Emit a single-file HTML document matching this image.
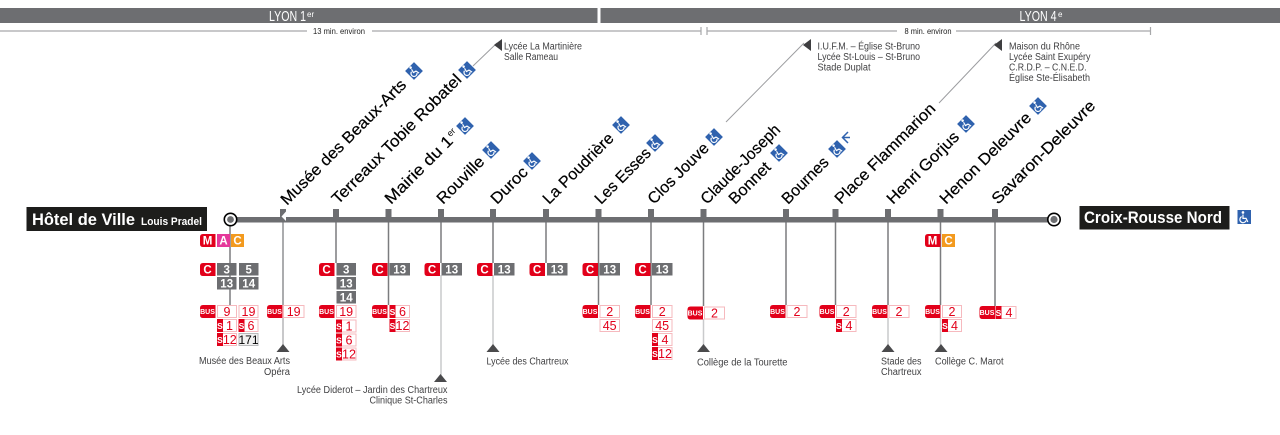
<!DOCTYPE html>
<html lang="fr"><head><meta charset="utf-8"><title>Ligne C</title>
<style>
html,body{margin:0;padding:0;background:#fff}
svg{display:block}
text{font-family:"Liberation Sans",sans-serif}
.g{fill:#6d6e71}
.w{fill:#fff;font-size:11.5px;text-anchor:middle;font-weight:bold}
.t{fill:#fff;font-size:11.5px;text-anchor:middle;font-weight:bold}
.b{fill:#fff;stroke:#f6b9be;stroke-width:1}
.r{fill:#e2001a;font-size:12.5px;text-anchor:middle}
.red{fill:#e2001a}
.bus{fill:#fff;font-size:7px;text-anchor:middle;font-weight:bold}
.s{fill:#fff;font-size:8.5px;text-anchor:middle;font-weight:bold}
.n{fill:#000;font-size:16px;stroke:#000;stroke-width:.2}
.sm{fill:#404042;font-size:10px}
.d{stroke:#7b7c7f;stroke-width:1.5}
.l{stroke:#c9cacc;stroke-width:1.5}
.di{stroke:#a7a8aa;stroke-width:1.2}
</style></head><body>
<svg width="1280" height="435" viewBox="0 0 1280 435" xmlns="http://www.w3.org/2000/svg">
<defs>
<path id="rb" d="M3 0H15.5V13H3Q0 13 0 10V3Q0 0 3 0Z" fill="#e2001a"/>
<g id="ic" fill="none" stroke="#fff" stroke-width="1.1"><circle cx="-1.2" cy="-4.4" r="1.2" fill="#fff" stroke="none"/><path d="M-1.2 -2.6V1H1.6L3.2 4.2"/><path d="M-2.4 -.6A2.9 2.9 0 1 0 1.6 3"/></g>
<g id="wc"><rect x="-6.3" y="-6.3" width="12.6" height="12.6" transform="rotate(45)" fill="#2f62ae"/><use href="#ic" transform="rotate(-30) scale(1.05)"/></g>
<path id="tri" d="M-6.5 8L0 0L6.5 8Z" fill="#4a4a4c"/>
<path id="tl" d="M0 6L8 0V12Z" fill="#3e3e40"/>
</defs>

<!-- headers -->
<rect x="0" y="8" width="597.5" height="15" class="g"/>
<rect x="600.5" y="8" width="679.5" height="15" class="g"/>
<text x="269" y="21" fill="#fff" font-size="14.5" textLength="37" lengthAdjust="spacingAndGlyphs">LYON 1</text>
<text x="307" y="17" fill="#fff" font-size="8">er</text>
<text x="1019.5" y="21" fill="#fff" font-size="14.5" textLength="37" lengthAdjust="spacingAndGlyphs">LYON 4</text>
<text x="1058" y="17" fill="#fff" font-size="8">e</text>

<!-- durations -->
<path class="di" d="M0 31H307M372 31H700.5M701 27V35M707 27V35M707 31H897M956 31H1150.5M1150.5 27V35" fill="none"/>
<text x="313" y="34" font-size="8.5" fill="#222" textLength="52" lengthAdjust="spacingAndGlyphs">13 min. environ</text>
<text x="904.5" y="34" font-size="8.5" fill="#222" textLength="47" lengthAdjust="spacingAndGlyphs">8 min. environ</text>

<!-- leader lines -->
<path d="M473 66L497 43M726 122L804 43M939 103L996 43" stroke="#9c9da0" stroke-width="1" fill="none"/>
<use href="#tl" x="494" y="39"/><use href="#tl" x="803" y="39"/><use href="#tl" x="994" y="39"/>
<g class="sm">
<text x="504" y="49.5" textLength="78" lengthAdjust="spacingAndGlyphs">Lycée La Martinière</text>
<text x="504" y="60" textLength="54" lengthAdjust="spacingAndGlyphs">Salle Rameau</text>
<text x="817.5" y="49.5" textLength="102.5" lengthAdjust="spacingAndGlyphs">I.U.F.M. – Église St-Bruno</text>
<text x="817.5" y="60" textLength="102.5" lengthAdjust="spacingAndGlyphs">Lycée St-Louis – St-Bruno</text>
<text x="817.5" y="70.5" textLength="53" lengthAdjust="spacingAndGlyphs">Stade Duplat</text>
<text x="1009" y="49.5" textLength="71" lengthAdjust="spacingAndGlyphs">Maison du Rhône</text>
<text x="1009" y="60" textLength="81.5" lengthAdjust="spacingAndGlyphs">Lycée Saint Exupéry</text>
<text x="1009" y="70.5" textLength="77.5" lengthAdjust="spacingAndGlyphs">C.R.D.P. – C.N.E.D.</text>
<text x="1009" y="81" textLength="81" lengthAdjust="spacingAndGlyphs">Église Ste-Élisabeth</text>
</g>

<!-- verticals -->
<path class="d" d="M230 222V305M336 222V263M388.5 222V305M441 222V263M493 222V263M546 222V263M598.5 222V305M651 222V305M703.5 222V306M786 222V305M835.5 222V305M888 222V305M940.5 222V305M995 222V306" fill="none"/>
<path class="l" d="M441 275V375M493 275V345M703.5 319V345M888 318V345M940.5 318V345" fill="none"/>
<path d="M283 222V305" stroke="#8f9093" stroke-width="1.5"/>
<path d="M283 318V345" stroke="#b5b6b8" stroke-width="1.5"/>

<!-- main line -->
<rect x="236" y="217" width="812" height="5.5" class="g"/>
<g class="g">
<rect x="280" y="209" width="6" height="9"/><rect x="333" y="209" width="6" height="9"/><rect x="385.5" y="209" width="6" height="9"/><rect x="438" y="209" width="6" height="9"/><rect x="490" y="209" width="6" height="9"/><rect x="543" y="209" width="6" height="9"/><rect x="595.5" y="209" width="6" height="9"/><rect x="648" y="209" width="6" height="9"/><rect x="700.5" y="209" width="6" height="9"/><rect x="783" y="209" width="6" height="9"/><rect x="832.5" y="209" width="6" height="9"/><rect x="885" y="209" width="6" height="9"/><rect x="937.5" y="209" width="6" height="9"/><rect x="992" y="209" width="6" height="9"/>
</g>
<path d="M286 211.5V221L281.5 216.5Z" fill="#fff"/>
<circle cx="230.5" cy="219.5" r="6.2" fill="#fff" stroke="#000" stroke-width="1.6"/><circle cx="230.5" cy="219.5" r="3.4" fill="#6d6e71"/>
<circle cx="1054" cy="219.5" r="6.2" fill="#fff" stroke="#000" stroke-width="1.6"/><circle cx="1054" cy="219.5" r="3.6" fill="#6d6e71"/>

<!-- terminals -->
<rect x="26.5" y="207" width="180.5" height="24" fill="#1d1d1b"/>
<text x="32" y="225" fill="#fff" font-size="16.5" font-weight="bold" textLength="103" lengthAdjust="spacingAndGlyphs">Hôtel de Ville</text>
<text x="141" y="225" fill="#fff" font-size="11" font-weight="bold" textLength="61" lengthAdjust="spacingAndGlyphs">Louis Pradel</text>
<rect x="1079.5" y="206" width="150" height="23.5" fill="#1d1d1b"/>
<text x="1084" y="223" fill="#fff" font-size="17" font-weight="bold" textLength="138" lengthAdjust="spacingAndGlyphs">Croix-Rousse Nord</text>
<rect x="1237.5" y="210" width="13.5" height="14" fill="#2f62ae"/><use href="#ic" transform="translate(1244.3 217.3) scale(1.1)"/>

<!-- station names -->
<g class="n">
<text transform="translate(287 206) rotate(-45)" textLength="170" lengthAdjust="spacingAndGlyphs">Musée des Beaux-Arts</text>
<text transform="translate(338 205) rotate(-45)" textLength="176" lengthAdjust="spacingAndGlyphs">Terreaux Tobie Robatel</text>
<g transform="translate(391 205) rotate(-45)"><text textLength="89" lengthAdjust="spacingAndGlyphs">Mairie du 1</text><text x="90" y="-6" font-size="9" stroke-width="0">er</text></g>
<text transform="translate(443 205) rotate(-45)" textLength="60" lengthAdjust="spacingAndGlyphs">Rouville</text>
<text transform="translate(497 205) rotate(-45)" textLength="45" lengthAdjust="spacingAndGlyphs">Duroc</text>
<text transform="translate(549 205) rotate(-45)" textLength="93" lengthAdjust="spacingAndGlyphs">La Poudrière</text>
<text transform="translate(601 205) rotate(-45)" textLength="72" lengthAdjust="spacingAndGlyphs">Les Esses</text>
<text transform="translate(654 205) rotate(-45)" textLength="79" lengthAdjust="spacingAndGlyphs">Clos Jouve</text>
<text transform="translate(707 205) rotate(-45)" textLength="105" lengthAdjust="spacingAndGlyphs">Claude-Joseph</text>
<text transform="translate(735 205) rotate(-45)" textLength="52" lengthAdjust="spacingAndGlyphs">Bonnet</text>
<text transform="translate(788 205) rotate(-45)" textLength="59" lengthAdjust="spacingAndGlyphs">Bournes</text>
<text transform="translate(841 205) rotate(-45)" textLength="135" lengthAdjust="spacingAndGlyphs">Place Flammarion</text>
<text transform="translate(893 205) rotate(-45)" textLength="95" lengthAdjust="spacingAndGlyphs">Henri Gorjus</text>
<text transform="translate(946 205) rotate(-45)" textLength="122" lengthAdjust="spacingAndGlyphs">Henon Deleuvre</text>
<text transform="translate(998 205) rotate(-45)" textLength="139" lengthAdjust="spacingAndGlyphs">Savaron-Deleuvre</text>
</g>

<!-- accessibility -->
<use href="#wc" transform="translate(414 71)"/><use href="#wc" transform="translate(467 70)"/><use href="#wc" transform="translate(465 126)"/><use href="#wc" transform="translate(491 150)"/><use href="#wc" transform="translate(532 161)"/><use href="#wc" transform="translate(621 125)"/><use href="#wc" transform="translate(655 143)"/><use href="#wc" transform="translate(714 137)"/><use href="#wc" transform="translate(779 153)"/><use href="#wc" transform="translate(837 149)"/><use href="#wc" transform="translate(966 124)"/><use href="#wc" transform="translate(1038 106)"/>
<path d="M848 132L842.5 137.5L848 143M843 137.5H850" fill="none" stroke="#2f62ae" stroke-width="1.5"/>

<!-- metro row -->
<use href="#rb" x="200" y="234"/><text class="w" x="207.5" y="244.7">M</text>
<rect x="217" y="234" width="13" height="13" fill="#e5389a"/><text class="w" x="223.5" y="244.7">A</text>
<rect x="231" y="234" width="13" height="13" fill="#f39a1e"/><text class="w" x="237.5" y="244.7">C</text>
<use href="#rb" x="925" y="234"/><text class="w" x="932.5" y="244.7">M</text>
<rect x="942" y="234" width="13" height="13" fill="#f39a1e"/><text class="w" x="948.5" y="244.7">C</text>

<!-- C badges -->
<g>
<use href="#rb" x="200" y="263"/><text class="w" x="207.5" y="273.7">C</text>
<rect class="g" x="217" y="263" width="19.5" height="12.5"/><text class="t" x="226.7" y="273.5">3</text>
<rect class="g" x="239" y="263" width="19.5" height="12.5"/><text class="t" x="248.7" y="273.5">5</text>
<rect class="g" x="217" y="277" width="19.5" height="12.5"/><text class="t" x="226.7" y="287.5">13</text>
<rect class="g" x="239" y="277" width="19.5" height="12.5"/><text class="t" x="248.7" y="287.5">14</text>

<use href="#rb" x="319" y="263"/><text class="w" x="326.5" y="273.7">C</text>
<rect class="g" x="336.5" y="263" width="19.5" height="12.5"/><text class="t" x="346.2" y="273.5">3</text>
<rect class="g" x="336.5" y="277" width="19.5" height="12.5"/><text class="t" x="346.2" y="287.5">13</text>
<rect class="g" x="336.5" y="291" width="19.5" height="12.5"/><text class="t" x="346.2" y="301.5">14</text>

<use href="#rb" x="372" y="263"/><text class="w" x="379.5" y="273.7">C</text>
<rect class="g" x="389.5" y="263" width="20.5" height="12.5"/><text class="t" x="399.7" y="273.5">13</text>
<use href="#rb" x="424.5" y="263"/><text class="w" x="432" y="273.7">C</text>
<rect class="g" x="441.5" y="263" width="20.5" height="12.5"/><text class="t" x="451.7" y="273.5">13</text>
<use href="#rb" x="477" y="263"/><text class="w" x="484.5" y="273.7">C</text>
<rect class="g" x="494" y="263" width="20.5" height="12.5"/><text class="t" x="504.2" y="273.5">13</text>
<use href="#rb" x="529.5" y="263"/><text class="w" x="537" y="273.7">C</text>
<rect class="g" x="547" y="263" width="20.5" height="12.5"/><text class="t" x="557.2" y="273.5">13</text>
<use href="#rb" x="582.5" y="263"/><text class="w" x="590" y="273.7">C</text>
<rect class="g" x="599.5" y="263" width="20.5" height="12.5"/><text class="t" x="609.7" y="273.5">13</text>
<use href="#rb" x="635" y="263"/><text class="w" x="642.5" y="273.7">C</text>
<rect class="g" x="652" y="263" width="20.5" height="12.5"/><text class="t" x="662.2" y="273.5">13</text>
</g>

<!-- bus: Hôtel de Ville -->
<use href="#rb" x="200" y="305"/><text class="bus" x="207.5" y="314">BUS</text>
<rect class="b" x="217.5" y="305.5" width="19" height="12"/><text class="r" x="227" y="316">9</text>
<rect class="b" x="239" y="305.5" width="19" height="12"/><text class="r" x="248.5" y="316">19</text>
<rect class="b" x="217.5" y="319.5" width="19" height="12"/><rect class="red" x="217" y="319" width="6" height="13"/><text class="s" x="220" y="328.8">S</text><text class="r" x="229.5" y="330">1</text>
<rect class="b" x="239" y="319.5" width="19" height="12"/><rect class="red" x="238.5" y="319" width="6" height="13"/><text class="s" x="241.5" y="328.8">S</text><text class="r" x="251" y="330">6</text>
<rect class="b" x="217.5" y="333.5" width="19" height="12"/><rect class="red" x="217" y="333" width="6" height="13"/><text class="s" x="220" y="342.8">S</text><text class="r" x="229.8" y="344">12</text>
<rect x="239" y="333.5" width="19" height="12" fill="#f1f1f1" stroke="#b8b9bb"/><text x="248.5" y="344" font-size="12" text-anchor="middle" fill="#000">171</text>

<!-- bus: Beaux-Arts -->
<use href="#rb" x="267" y="305"/><text class="bus" x="274.5" y="314">BUS</text>
<rect class="b" x="283.5" y="305.5" width="20.5" height="12"/><text class="r" x="293.7" y="316">19</text>

<!-- bus: Terreaux -->
<use href="#rb" x="319" y="305"/><text class="bus" x="326.5" y="314">BUS</text>
<rect class="b" x="336.5" y="305.5" width="19.5" height="12"/><text class="r" x="346.2" y="316">19</text>
<rect class="b" x="336.5" y="320" width="19.5" height="12"/><rect class="red" x="336" y="319.5" width="6" height="13"/><text class="s" x="339" y="329.3">S</text><text class="r" x="349" y="330.5">1</text>
<rect class="b" x="336.5" y="334" width="19.5" height="12"/><rect class="red" x="336" y="333.5" width="6" height="13"/><text class="s" x="339" y="343.3">S</text><text class="r" x="349" y="344.5">6</text>
<rect class="b" x="336.5" y="348" width="19.5" height="12"/><rect class="red" x="336" y="347.5" width="6" height="13"/><text class="s" x="339" y="357.3">S</text><text class="r" x="349" y="358.5">12</text>

<!-- bus: Mairie -->
<use href="#rb" x="372" y="305"/><text class="bus" x="379.5" y="314">BUS</text>
<rect class="b" x="390" y="305.5" width="19.5" height="12"/><rect class="red" x="389.5" y="305" width="6" height="13"/><text class="s" x="392.5" y="314.8">S</text><text class="r" x="402.5" y="316">6</text>
<rect class="b" x="390" y="319.5" width="19.5" height="12"/><rect class="red" x="389.5" y="319" width="6" height="13"/><text class="s" x="392.5" y="328.8">S</text><text class="r" x="402.5" y="330">12</text>

<!-- bus: Les Esses -->
<use href="#rb" x="582.5" y="305"/><text class="bus" x="590" y="314">BUS</text>
<rect class="b" x="600" y="305.5" width="19.5" height="12"/><text class="r" x="609.7" y="316">2</text>
<rect class="b" x="600" y="319.5" width="19.5" height="12"/><text class="r" x="609.7" y="330">45</text>

<!-- bus: Clos Jouve -->
<use href="#rb" x="635" y="305"/><text class="bus" x="642.5" y="314">BUS</text>
<rect class="b" x="652.5" y="305.5" width="19.5" height="12"/><text class="r" x="662.2" y="316">2</text>
<rect class="b" x="652.5" y="319.5" width="19.5" height="12"/><text class="r" x="662.2" y="330">45</text>
<rect class="b" x="652.5" y="333.5" width="19.5" height="12"/><rect class="red" x="652" y="333" width="6" height="13"/><text class="s" x="655" y="342.8">S</text><text class="r" x="665" y="344">4</text>
<rect class="b" x="652.5" y="347.5" width="19.5" height="12"/><rect class="red" x="652" y="347" width="6" height="13"/><text class="s" x="655" y="356.8">S</text><text class="r" x="665" y="358">12</text>

<!-- bus: Claude-Joseph Bonnet -->
<use href="#rb" x="687.5" y="306.5"/><text class="bus" x="695" y="315.5">BUS</text>
<rect class="b" x="704.5" y="307" width="20" height="12"/><text class="r" x="714.5" y="317.5">2</text>

<!-- bus: Bournes -->
<use href="#rb" x="770" y="305"/><text class="bus" x="777.5" y="314">BUS</text>
<rect class="b" x="787" y="305.5" width="20" height="12"/><text class="r" x="797" y="316">2</text>

<!-- bus: Place Flammarion -->
<use href="#rb" x="819.5" y="305"/><text class="bus" x="827" y="314">BUS</text>
<rect class="b" x="836.5" y="305.5" width="19.5" height="12"/><text class="r" x="846.2" y="316">2</text>
<rect class="b" x="836.5" y="319.5" width="19.5" height="12"/><rect class="red" x="836" y="319" width="6" height="13"/><text class="s" x="839" y="328.8">S</text><text class="r" x="849" y="330">4</text>

<!-- bus: Henri Gorjus -->
<use href="#rb" x="872" y="305"/><text class="bus" x="879.5" y="314">BUS</text>
<rect class="b" x="889" y="305.5" width="20" height="12"/><text class="r" x="899" y="316">2</text>

<!-- bus: Henon -->
<use href="#rb" x="925" y="305"/><text class="bus" x="932.5" y="314">BUS</text>
<rect class="b" x="942.5" y="305.5" width="19" height="12"/><text class="r" x="952" y="316">2</text>
<rect class="b" x="942.5" y="319.5" width="19" height="12"/><rect class="red" x="942" y="319" width="6" height="13"/><text class="s" x="945" y="328.8">S</text><text class="r" x="954.5" y="330">4</text>

<!-- bus: Savaron -->
<use href="#rb" x="979.5" y="306"/><text class="bus" x="987" y="315">BUS</text>
<rect class="b" x="996" y="306.5" width="20" height="12"/><rect class="red" x="995.5" y="306" width="6" height="13"/><text class="s" x="998.5" y="315.8">S</text><text class="r" x="1009" y="317">4</text>

<!-- triangles -->
<use href="#tri" x="283" y="344"/><use href="#tri" x="440.5" y="374"/><use href="#tri" x="493" y="344"/><use href="#tri" x="703.5" y="344"/><use href="#tri" x="888" y="344"/><use href="#tri" x="941" y="344"/>

<!-- destination labels -->
<g class="sm">
<text x="199" y="364" textLength="91" lengthAdjust="spacingAndGlyphs">Musée des Beaux Arts</text>
<text x="264" y="375" textLength="26" lengthAdjust="spacingAndGlyphs">Opéra</text>
<text x="297" y="393" textLength="150.5" lengthAdjust="spacingAndGlyphs">Lycée Diderot – Jardin des Chartreux</text>
<text x="369.5" y="403.5" textLength="78" lengthAdjust="spacingAndGlyphs">Clinique St-Charles</text>
<text x="486.5" y="364.5" textLength="82" lengthAdjust="spacingAndGlyphs">Lycée des Chartreux</text>
<text x="697" y="365.5" textLength="90.5" lengthAdjust="spacingAndGlyphs">Collège de la Tourette</text>
<text x="881" y="364.5" textLength="40.5" lengthAdjust="spacingAndGlyphs">Stade des</text>
<text x="881" y="375" textLength="40.5" lengthAdjust="spacingAndGlyphs">Chartreux</text>
<text x="935" y="364.5" textLength="68.5" lengthAdjust="spacingAndGlyphs">Collège C. Marot</text>
</g>
</svg>
</body></html>
